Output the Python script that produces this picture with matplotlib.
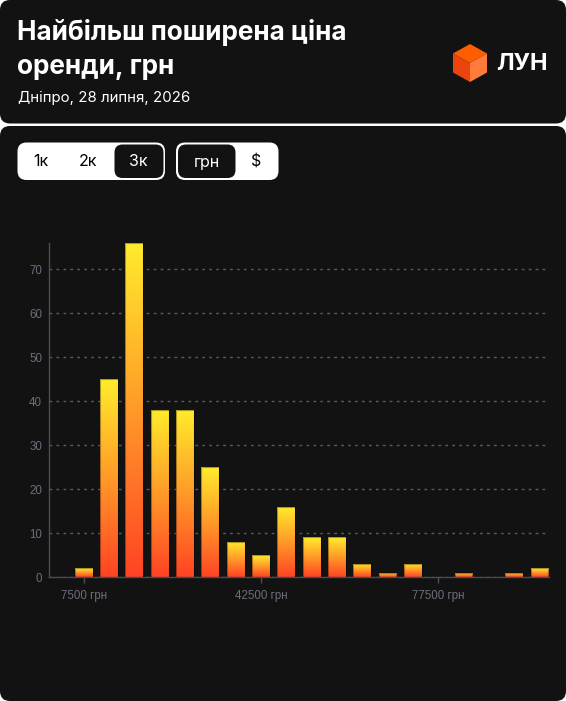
import numpy as np
import matplotlib
matplotlib.use('Agg')
import matplotlib.pyplot as plt
from matplotlib.patches import FancyBboxPatch, Polygon
from matplotlib.colors import LinearSegmentedColormap

# кількість оголошень по ціні, крок 5000 грн
price_bins = [7500, 12500, 17500, 22500, 27500, 32500, 37500, 42500, 47500, 52500,
              57500, 62500, 67500, 72500, 77500, 82500, 87500, 92500, 97500]
counts = [2, 45, 76, 38, 38, 25, 8, 5, 16, 9, 9, 3, 1, 3, 0, 1, 0, 1, 2]
x_ticks = [7500, 42500, 77500]
x_tick_labels = ['7500 грн', '42500 грн', '77500 грн']
y_ticks = [0, 10, 20, 30, 40, 50, 60, 70]

title_lines = ['Найбільш поширена ціна', 'оренди, грн']
subtitle = 'Дніпро, 28 липня, 2026'
step_buttons = ['1к', '2к', '3к']
currency_buttons = ['грн', '$']

BG = '#121212'
GRAY = '#6e6e7c'
ui_font = ['Inter', 'DejaVu Sans']
tick_font = ['Liberation Sans', 'DejaVu Sans']

fig = plt.figure(figsize=(5.66, 7.01), dpi=100)
fig.patch.set_facecolor('white')

# фон у пікселях
bg = fig.add_axes([0, 0, 1, 1])
bg.set_xlim(0, 566)
bg.set_ylim(701, 0)
bg.axis('off')

bg.add_patch(FancyBboxPatch((0, 0), 566, 123.5, boxstyle='round,pad=0,rounding_size=10',
                            fc=BG, ec='none'))
bg.add_patch(FancyBboxPatch((0, 126), 566, 575, boxstyle='round,pad=0,rounding_size=10',
                            fc=BG, ec='none'))

for line, yc in zip(title_lines, [32.5, 66.5]):
    bg.text(17, yc, line, color='white', fontsize=18.8, fontweight='bold', family=ui_font,
            va='center', ha='left')
bg.text(18, 98, subtitle, color='white', fontsize=10.8, family=ui_font, va='center')

# логотип
top, ul, ll = (470, 44), (453, 53.5), (453, 72.5)
bot, lr, ur, c = (470, 82), (487, 72.5), (487, 53.5), (470, 63)
bg.add_patch(Polygon([top, ur, c, ul], closed=True, fc='#FF5E00', ec='none'))
bg.add_patch(Polygon([ul, c, bot, ll], closed=True, fc='#EC440E', ec='none'))
bg.add_patch(Polygon([c, ur, lr, bot], closed=True, fc='#FF7B3A', ec='none'))
bg.text(496, 63.5, 'ЛУН', color='white', fontsize=17, fontweight='bold', family=ui_font,
        va='center', ha='left')

# перемикачі
bg.add_patch(FancyBboxPatch((17.5, 142.5), 147.5, 37.5, boxstyle='round,pad=0,rounding_size=9',
                            fc='white', ec='none'))
bg.add_patch(FancyBboxPatch((114.5, 144.5), 49, 33.5, boxstyle='round,pad=0,rounding_size=8',
                            fc=BG, ec='none'))
for lbl, xc in zip(step_buttons, [41, 88, 138.5]):
    bg.text(xc, 162, lbl, color='white' if lbl == '3к' else 'black', fontsize=11.5,
            family=ui_font, ha='center', va='center')

bg.add_patch(FancyBboxPatch((176, 142.5), 102.5, 37.5, boxstyle='round,pad=0,rounding_size=9',
                            fc='white', ec='none'))
bg.add_patch(FancyBboxPatch((178, 144.5), 57.5, 33.5, boxstyle='round,pad=0,rounding_size=8',
                            fc=BG, ec='none'))
for lbl, xc in zip(currency_buttons, [206.5, 256.5]):
    bg.text(xc, 162, lbl, color='white' if lbl == 'грн' else 'black', fontsize=11.5,
            family=ui_font, ha='center', va='center')

# графік
ax = fig.add_axes([49 / 566, 1 - 577 / 701, (548.7 - 49) / 566, (577 - 242.7) / 701])
ax.set_facecolor('none')

cmap = LinearSegmentedColormap.from_list('fire', ['#FF4324', '#FF9A28', '#FFEC2C'])
grad = np.linspace(0, 1, 256).reshape(-1, 1)

bars = ax.bar(price_bins, counts, width=3500, color='none', edgecolor='#00000055',
              linewidth=0.8, zorder=3)
for b in bars:
    h = b.get_height()
    if h <= 0:
        continue
    x0 = b.get_x()
    im = ax.imshow(grad, extent=[x0, x0 + b.get_width(), 0, h], origin='lower',
                   aspect='auto', cmap=cmap, zorder=2.5)
    im.set_clip_path(b)

ax.set_xlim(650, 99300)
ax.set_ylim(0, 76)
ax.set_xticks(x_ticks)
ax.set_xticklabels(x_tick_labels)
ax.set_yticks(y_ticks)

for s in ['top', 'right']:
    ax.spines[s].set_visible(False)
for s in ['left', 'bottom']:
    ax.spines[s].set_color('#4b4b55')
    ax.spines[s].set_linewidth(1)

ax.yaxis.grid(True, color='#5a5a5e', linestyle=(0, (2, 3)), linewidth=1)
ax.set_axisbelow(True)
ax.tick_params(axis='y', length=0, pad=5, labelcolor=GRAY, labelsize=8.3)
ax.tick_params(axis='x', length=4, width=1, color='#4b4b55', pad=5, labelcolor=GRAY, labelsize=8.3)
for t in ax.get_xticklabels() + ax.get_yticklabels():
    t.set_family(tick_font)

fig.savefig('out.png', dpi=100, facecolor=fig.get_facecolor())
